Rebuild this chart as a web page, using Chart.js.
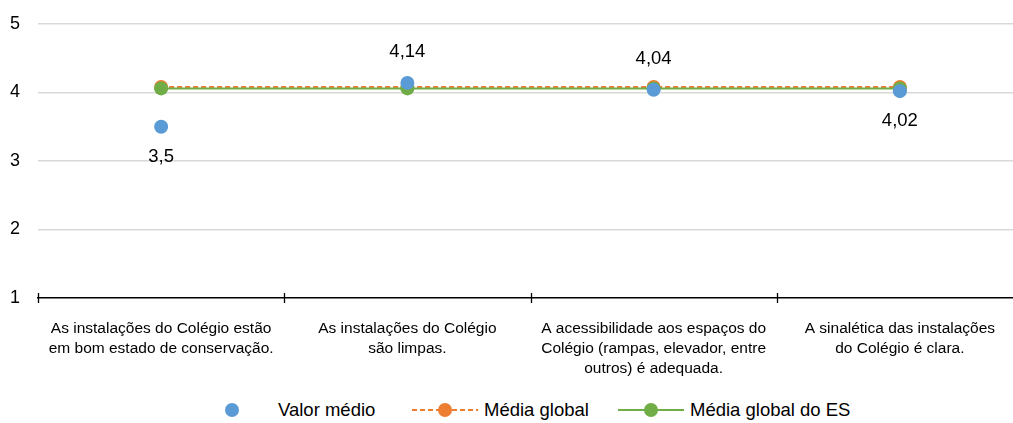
<!DOCTYPE html>
<html>
<head>
<meta charset="utf-8">
<script src="https://cdn.jsdelivr.net/npm/chart.js@4/dist/chart.umd.min.js"></script>
<style>
  html, body { margin: 0; padding: 0; background: #fff; overflow: hidden; width: 1013px; height: 423px; }
  #wrap { position: absolute; left: 0; top: 0; width: 1030px; height: 392px; }
  #legend { position: absolute; left: 0; top: 398px; width: 1013px; height: 24px;
    font-family: "Liberation Sans", Arial, sans-serif; font-size: 18.5px; color: #000; }
  #legend .item { position: absolute; top: 0; display: flex; align-items: center; height: 24px; white-space: nowrap; }
  #legend svg { display: block; margin-right: 6px; }
</style>
</head>
<body>
<div id="wrap"><canvas id="chart"></canvas></div>
<div id="legend">
  <div class="item" style="left:224px">
    <svg width="48" height="16"><circle cx="8" cy="8" r="7" fill="#5B9BD5"/></svg><span>Valor médio</span>
  </div>
  <div class="item" style="left:412px">
    <svg width="66" height="16"><line x1="0" y1="8" x2="66" y2="8" stroke="#ED7D31" stroke-width="2" stroke-dasharray="5,3"/><circle cx="33" cy="8" r="7" fill="#ED7D31"/></svg><span>Média global</span>
  </div>
  <div class="item" style="left:618px">
    <svg width="66" height="16"><line x1="0" y1="8" x2="66" y2="8" stroke="#70AD47" stroke-width="2"/><circle cx="33" cy="8" r="7" fill="#70AD47"/></svg><span>Média global do ES</span>
  </div>
</div>
<script>
const categories = [
  ["As instalações do Colégio estão", "em bom estado de conservação."],
  ["As instalações do Colégio", "são limpas."],
  ["A acessibilidade aos espaços do", "Colégio (rampas, elevador, entre", "outros) é adequada."],
  ["A sinalética das instalações", "do Colégio é clara."]
];
const valorMedio = [3.5, 4.14, 4.04, 4.02];
const mediaGlobal = [4.08, 4.08, 4.08, 4.08];
const mediaGlobalES = [4.06, 4.06, 4.06, 4.06];
const yTicks = [1, 2, 3, 4, 5];

// value labels for the blue points, placed above or below the point
const valueLabels = {
  id: "valueLabels",
  afterDatasetsDraw(chart) {
    const ctx = chart.ctx;
    const meta = chart.getDatasetMeta(0);
    const below = [true, false, false, true];
    ctx.save();
    ctx.font = "18.5px 'Liberation Sans', Arial, sans-serif";
    ctx.fillStyle = "#000";
    ctx.textAlign = "center";
    ctx.textBaseline = "middle";
    meta.data.forEach((pt, i) => {
      const txt = String(valorMedio[i]).replace(".", ",");
      ctx.fillText(txt, pt.x, pt.y + (below[i] ? 30 : -31));
    });
    ctx.restore();
  }
};

// tick marks across the x axis line at category boundaries
const axisTicks = {
  id: "axisTicks",
  afterDraw(chart) {
    const ctx = chart.ctx;
    const x = chart.scales.x;
    const y = chart.chartArea.bottom;
    ctx.save();
    ctx.strokeStyle = "#000";
    ctx.lineWidth = 1.3;
    for (let i = 0; i <= categories.length; i++) {
      const px = Math.round(x.getPixelForValue(i - 0.5)) + 0.5;
      ctx.beginPath();
      ctx.moveTo(px, y - 5);
      ctx.lineTo(px, y + 5);
      ctx.stroke();
    }
    ctx.restore();
  }
};

new Chart(document.getElementById("chart"), {
  type: "line",
  data: {
    labels: categories,
    datasets: [
      {
        label: "Valor médio",
        data: valorMedio,
        showLine: false,
        pointRadius: 7,
        pointHoverRadius: 7,
        pointBackgroundColor: "#5B9BD5",
        pointBorderWidth: 0,
        borderColor: "#5B9BD5",
        order: 1
      },
      {
        label: "Média global",
        data: mediaGlobal,
        borderColor: "#ED7D31",
        borderWidth: 2,
        borderDash: [5, 3],
        pointRadius: 7,
        pointBackgroundColor: "#ED7D31",
        pointBorderWidth: 0,
        order: 3
      },
      {
        label: "Média global do ES",
        data: mediaGlobalES,
        borderColor: "#70AD47",
        borderWidth: 2,
        pointRadius: 7,
        pointBackgroundColor: "#70AD47",
        pointBorderWidth: 0,
        order: 2
      }
    ]
  },
  options: {
    responsive: true,
    maintainAspectRatio: false,
    animation: false,
    layout: { padding: { top: 24, right: 0, left: 10, bottom: 0 } },
    plugins: {
      legend: { display: false },
      tooltip: { enabled: false }
    },
    scales: {
      y: {
        min: 1,
        max: 5,
        afterBuildTicks: (s) => { s.ticks = yTicks.map((v) => ({ value: v })); },
        afterFit: (s) => { s.width = 28; },
        grid: {
          color: (c) => (c.tick.value === 1 ? "rgba(0,0,0,0)" : "#d9d9d9"),
          lineWidth: 1.5,
          drawTicks: false
        },
        border: { display: false },
        ticks: {
          padding: 2,
          crossAlign: "far",
          color: "#000",
          font: { family: "'Liberation Sans', Arial, sans-serif", size: 18 }
        }
      },
      x: {
        offset: true,
        afterFit: (s) => { s.height = 94; },
        grid: { display: false },
        border: { display: true, color: "#000", width: 1.5 },
        ticks: {
          padding: 12,
          maxRotation: 0,
          autoSkip: false,
          color: "#000",
          font: { family: "'Liberation Sans', Arial, sans-serif", size: 15.5, lineHeight: 1.32 }
        }
      }
    }
  },
  plugins: [valueLabels, axisTicks]
});
</script>
</body>
</html>
